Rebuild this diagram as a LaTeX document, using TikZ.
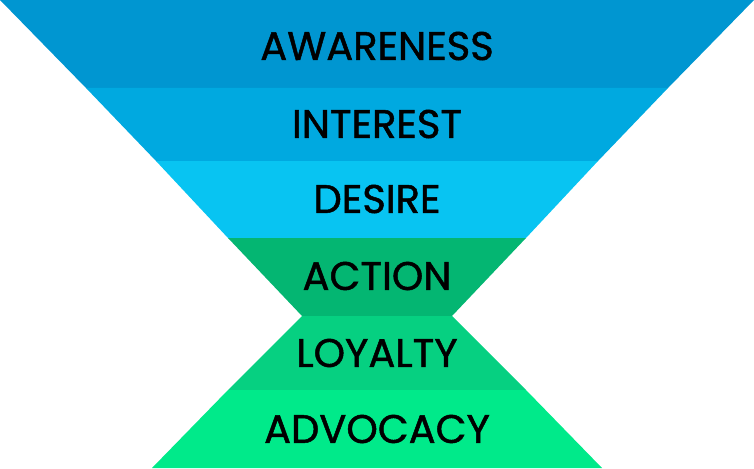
\documentclass[tikz,border=0pt]{standalone}
\usepackage{fontspec}
\setmainfont{Poppins}[FakeBold=1.2]
\begin{document}
\begin{tikzpicture}[x=1pt,y=-1pt,
  lbl/.style={font=\fontsize{40}{40}\selectfont, text=black, anchor=center}]
\definecolor{c1}{HTML}{0096D1}
\definecolor{c2}{HTML}{00A9E0}
\definecolor{c3}{HTML}{08C4F2}
\definecolor{c4}{HTML}{04B672}
\definecolor{c5}{HTML}{06D081}
\definecolor{c6}{HTML}{00EA8A}
\useasboundingbox (0,0) rectangle (754,468);
\fill[c1] (0,0) -- (754,0) -- (668,88) -- (86,88) -- cycle;
\fill[c2] (86,88) -- (668,88) -- (598,161) -- (156,161) -- cycle;
\fill[c3] (156,161) -- (598,161) -- (526,238) -- (228,238) -- cycle;
\fill[c4] (228,238) -- (526,238) -- (452,316) -- (302,316) -- cycle;
\fill[c5] (302,316) -- (452,316) -- (526,390) -- (228,390) -- cycle;
\fill[c6] (228,390) -- (526,390) -- (602,468) -- (152,468) -- cycle;
\node[lbl] (a) at (377,46) {AWARENESS};
\node[lbl] (b) at (377,124) {INTEREST};
\node[lbl] (c) at (377,199) {DESIRE};
\node[lbl] (d) at (377,276) {ACTION};
\node[lbl] (e) at (377,353) {LOYALTY};
\node[lbl] (f) at (377,429) {ADVOCACY};
\end{tikzpicture}
\end{document}
